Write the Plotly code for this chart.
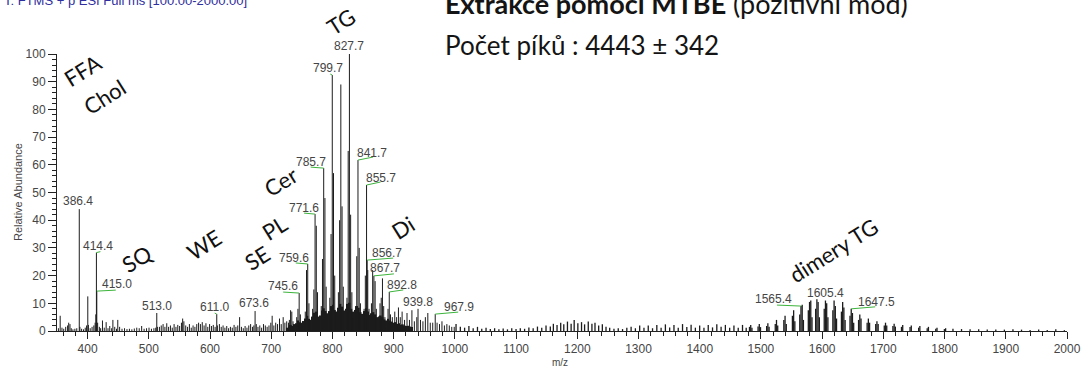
import plotly.graph_objects as go

# ---------------- spectrum data: m/z and relative abundance (%) ----------------
# low-mass region (FFA, cholesterol, squalene, wax esters, sterol esters)
low_mz = [352.3, 355.2, 358.1, 361.0, 364.2, 367.3, 369.1, 371.2, 373.3, 376.0,
          379.2, 382.3, 386.4, 387.4, 390.2, 393.3, 396.1, 398.3, 400.3, 401.3,
          404.2, 407.3, 410.2, 412.3, 413.4, 414.4, 415.0, 416.4, 419.2, 421.3,
          424.3, 427.2, 430.3, 433.3, 436.2, 439.3, 441.3, 444.3, 447.2, 449.3,
          452.3, 456.2, 460.3, 464.3, 468.3, 472.3, 476.3, 480.3, 484.3, 488.3,
          492.3, 496.3, 500.3, 504.3, 508.3, 511.3, 513.0, 514.0, 517.3, 520.3,
          523.3, 526.3, 529.3, 532.3, 535.3, 538.3, 541.3, 544.3, 547.3, 550.3,
          553.3, 555.3, 557.3, 560.3, 563.3, 566.3, 569.3, 572.3, 575.3, 578.3,
          581.3, 584.3, 587.3, 590.3, 593.3, 596.3, 599.3, 602.3, 605.3, 608.3,
          611.0, 612.0, 615.3, 618.3, 621.3, 624.3, 627.3, 630.3, 633.3, 636.3,
          639.3, 642.3, 645.3, 648.3, 651.3, 654.3, 657.3, 660.3, 663.3, 666.3,
          669.3, 671.6, 673.6, 675.6, 678.3, 681.3, 684.3, 687.3, 690.3, 693.3,
          696.3, 699.3, 701.5, 704.3, 707.3, 710.3, 713.5, 716.3, 719.5, 722.3,
          725.3, 728.3]
low_int = [1.0, 5.5, 1.2, 0.8, 1.5, 2.0, 3.0, 2.5, 1.0, 0.6,
           0.8, 1.0, 44.0, 1.5, 0.8, 0.6, 1.2, 2.0, 12.5, 2.2,
           1.0, 1.5, 2.0, 3.0, 6.0, 28.3, 14.4, 3.0, 1.5, 1.0,
           3.8, 1.2, 3.2, 1.0, 1.8, 1.0, 4.0, 1.5, 0.8, 4.0,
           1.5, 0.8, 1.0, 0.7, 0.8, 0.6, 0.9, 1.2, 1.0, 1.8,
           0.8, 1.0, 1.2, 0.8, 1.0, 1.2, 6.5, 1.5, 1.5, 2.0,
           2.5, 1.5, 2.8, 1.5, 2.0, 1.2, 2.5, 1.5, 2.2, 1.8,
           3.0, 4.5, 3.5, 2.0, 1.5, 2.5, 1.2, 2.0, 1.5, 2.5,
           3.0, 2.5, 3.2, 2.0, 2.8, 1.5, 2.5, 1.8, 2.2, 1.5,
           6.1, 2.0, 2.5, 1.5, 2.0, 1.2, 1.8, 1.0, 1.5, 1.2,
           2.2, 1.5, 2.0, 5.0, 1.5, 1.0, 1.8, 1.2, 2.0, 2.5,
           1.5, 2.0, 7.2, 2.5, 1.5, 2.0, 1.2, 2.5, 2.0, 1.5,
           2.0, 3.0, 5.5, 2.0, 3.0, 2.5, 4.5, 2.5, 5.0, 3.0,
           3.5, 3.0]

# phospholipid / ceramide / TG region
tg_mz = [729.6, 731.6, 733.6, 735.6, 741.6, 743.6, 745.6, 747.6, 749.6, 755.6,
         757.6, 759.6, 761.6, 763.6, 767.6, 769.6, 771.6, 773.6, 775.6, 777.6,
         781.7, 783.7, 785.7, 787.7, 789.7, 791.7, 795.7, 797.7, 799.7, 801.7,
         803.7, 805.7, 809.7, 811.7, 813.7, 815.7, 817.7, 819.7, 823.7, 825.7,
         827.7, 829.7, 831.7, 833.7, 837.7, 839.7, 841.7, 843.7, 845.7, 851.7,
         853.7, 855.7, 856.7, 857.7, 859.7, 863.7, 865.7, 867.7, 869.7, 871.7,
         877.7, 879.7, 881.7, 883.7, 885.7, 890.8, 892.8, 894.8, 897.8, 901.8,
         904.8, 907.8, 910.8, 913.8, 917.8, 921.8, 925.8, 929.8, 933.8, 937.8,
         939.8, 943.8, 947.8, 951.8, 955.8, 959.8, 963.8, 967.9, 970.9, 974.9,
         978.9, 982.9, 986.9, 990.9, 994.9, 998.9]
tg_int = [4.0, 7.5, 7.0, 3.5, 5.0, 8.0, 13.7, 6.0, 3.0, 7.0,
          22.0, 24.2, 10.0, 4.0, 8.0, 15.0, 42.2, 38.0, 14.0, 5.0,
          9.0, 26.0, 58.8, 48.0, 16.0, 6.0, 12.0, 35.0, 92.4, 57.0,
          20.0, 7.0, 14.0, 40.0, 89.0, 45.0, 16.0, 6.0, 12.0, 65.0,
          100.0, 42.0, 14.0, 5.0, 9.0, 27.0, 61.7, 30.0, 10.0, 8.0,
          20.0, 52.7, 25.6, 22.0, 8.0, 10.0, 22.0, 19.9, 18.0, 8.0,
          10.0, 12.0, 19.0, 9.0, 5.0, 8.0, 14.1, 6.0, 5.0, 7.0,
          5.0, 8.5, 5.0, 7.0, 4.0, 6.5, 4.0, 7.5, 3.5, 5.0,
          8.0, 4.0, 3.5, 5.0, 6.5, 3.0, 3.0, 6.1, 3.0, 2.5,
          3.5, 2.0, 2.5, 2.0, 1.5, 1.5]

# unresolved background under the TG envelope
tg_base_mz = [726, 729, 732, 735, 738, 741, 744, 747, 750, 753, 756, 759, 762, 765,
              768, 771, 774, 777, 780, 783, 786, 789, 792, 795, 798, 801, 804, 807,
              810, 813, 816, 819, 822, 825, 828, 831, 834, 837, 840, 843, 846, 849,
              852, 855, 858, 861, 864, 867, 870, 873, 876, 879, 882, 885, 888, 891,
              894, 897, 900, 903, 906, 909, 912, 915, 918, 921, 924, 927, 930]
tg_base_int = [1.2, 1.6, 2.2, 1.8, 2.5, 2.8, 3.8, 3.2, 2.8, 3.6, 4.5, 5.5, 4.4, 4.0,
               5.2, 6.6, 7.0, 5.2, 5.6, 7.4, 8.2, 7.2, 6.4, 7.2, 9.0, 9.5, 7.6, 7.0,
               8.4, 9.8, 8.8, 7.4, 8.0, 9.8, 10.2, 8.0, 7.0, 7.6, 9.0, 8.4, 6.8, 6.2,
               7.2, 8.2, 7.0, 5.8, 6.4, 6.8, 6.0, 5.0, 5.2, 5.6, 5.0, 4.2, 3.8, 4.4,
               3.8, 3.4, 3.0, 3.2, 2.6, 2.8, 2.2, 2.4, 2.0, 1.8, 1.9, 1.6, 1.4]

# 1000 - 1480
mid_mz = [1001.9, 1008.9, 1015.9, 1022.9, 1029.9, 1036.9, 1043.9, 1050.9, 1057.9, 1064.9,
          1071.9, 1078.9, 1085.9, 1092.9, 1099.9, 1106.9, 1113.9, 1120.9, 1127.9, 1134.9,
          1141.9, 1148.9, 1155.9, 1160.9, 1166.9, 1172.9, 1177.9, 1183.9, 1189.9, 1194.9,
          1200.9, 1206.9, 1211.9, 1217.9, 1223.9, 1228.9, 1234.9, 1240.9, 1246.9, 1252.9,
          1259.9, 1266.9, 1273.9, 1280.9, 1287.9, 1294.9, 1301.9, 1308.9, 1315.9, 1322.9,
          1329.9, 1336.9, 1343.9, 1350.9, 1357.9, 1364.9, 1371.9, 1378.9, 1385.9, 1392.9,
          1399.9, 1406.9, 1413.9, 1420.9, 1427.9, 1434.9, 1441.9, 1448.9, 1455.9, 1462.9,
          1469.9, 1475.9]
mid_int = [2.5, 1.5, 1.2, 1.8, 1.0, 1.5, 0.8, 1.2, 0.7, 1.0,
           0.6, 0.9, 0.6, 1.0, 0.7, 1.0, 0.8, 1.3, 1.0, 1.6,
           1.2, 2.0, 1.6, 2.6, 2.2, 3.0, 2.4, 3.4, 2.6, 4.0,
           2.8, 3.2, 2.4, 3.4, 2.6, 3.0, 2.0, 2.4, 1.5, 1.2,
           0.8, 1.0, 0.7, 1.2, 1.5, 1.0, 2.0, 1.2, 2.0, 1.0,
           2.2, 1.2, 2.4, 1.3, 2.2, 1.2, 2.5, 1.4, 2.3, 1.2,
           2.0, 1.2, 2.2, 1.3, 2.4, 1.5, 2.2, 1.2, 2.0, 1.2,
           2.2, 1.2]

# TG dimer region
dimer_mz = [1481.3, 1483.3, 1485.3, 1495.3, 1497.3, 1499.3, 1509.3, 1511.3, 1513.3,
            1523.4, 1525.4, 1527.4, 1537.4, 1539.4, 1541.4, 1551.4, 1553.4, 1555.4,
            1563.4, 1565.4, 1567.4, 1569.4, 1577.4, 1579.4, 1581.4, 1583.4,
            1589.4, 1591.4, 1593.4, 1595.4, 1603.4, 1605.4, 1607.4, 1609.4,
            1617.5, 1619.5, 1621.5, 1623.5, 1631.5, 1633.5, 1635.5, 1637.5,
            1645.5, 1647.5, 1649.5, 1651.5, 1659.5, 1661.5, 1663.5,
            1673.5, 1675.5, 1677.5, 1687.5, 1689.5, 1691.5, 1701.5, 1703.5, 1705.5,
            1715.6, 1717.6, 1719.6, 1729.6, 1731.6, 1743.6, 1745.6, 1757.6, 1759.6,
            1771.6, 1773.6, 1785.6, 1787.6, 1799.7, 1801.7,
            1813.7, 1827.7, 1841.7, 1855.7, 1869.7, 1883.7, 1897.7, 1911.7,
            1925.7, 1939.7, 1953.7, 1967.7, 1981.7, 1995.7]
dimer_int = [1.5, 2.2, 1.2, 1.6, 2.5, 1.4, 1.8, 2.8, 1.5,
             2.5, 4.0, 2.0, 4.0, 5.5, 2.5, 5.5, 7.5, 3.5,
             6.0, 9.0, 9.5, 4.0, 7.5, 10.5, 11.0, 5.0,
             8.0, 11.5, 10.5, 5.0, 8.0, 11.0, 10.0, 5.0,
             7.5, 11.0, 9.0, 4.5, 7.0, 10.5, 8.5, 4.0,
             5.5, 8.0, 6.5, 3.0, 4.0, 6.0, 4.5,
             3.0, 4.5, 3.0, 2.5, 3.5, 2.5, 2.0, 3.0, 2.0,
             1.8, 2.6, 1.6, 1.5, 2.2, 1.4, 2.0, 1.2, 1.8,
             1.0, 1.5, 0.8, 1.2, 0.7, 1.0,
             0.8, 0.7, 0.6, 0.6, 0.5, 0.5, 0.5, 0.6,
             0.5, 0.4, 0.5, 0.4, 0.6, 0.3]

# labelled peaks and label placement (pixel offsets of text / green leader)
label_mz = [386.4, 414.4, 415.0, 513.0, 611.0, 673.6, 745.6, 759.6, 771.6, 785.7, 799.7,
            827.7, 841.7, 855.7, 856.7, 867.7, 892.8, 939.8, 967.9, 1565.4, 1605.4, 1647.5]
label_dx = [-1, 2, 20, 0, -2, -1, -16, -14, -11, -13, -4, 0, 14, 14, 20, 11, 13, 0, 24, -27, 0, 25]
label_dy = [8, 7, 7, 7, 7, 8, 7, 6, 6, 6, 7, 8, 7, 7, 7, 8, 7, 7, 7, 7, 8, 7]
lead_dx = [0, 4, 19, 0, -2, 0, -16, -12, -11, -13, -2, 0, 15, 14, 26, 20, 14, 0, 23, -24, 0, 24]
lead_dy = [0, 1, 1, 0, 1, 0, 1, 1, 1, 1, 1, 0, 3, 3, 2, 2, 2, 0, 2, 1, 0, 2]

# lipid class annotations (m/z, relative abundance position)
class_names = ["TG", "FFA", "Chol", "Cer", "PL", "SE", "WE", "SQ", "Di", "dimery TG"]
class_mz = [814, 391, 428, 716, 706, 678, 590, 481, 915, 1618]
class_y = [111.6, 94.2, 84.8, 53.8, 37.5, 26.4, 31.4, 26.0, 37.5, 28.9]

# ---------------- figure ----------------
W, H = 1082, 367
L, R, T, B = 57, 15, 54, 36
TICK_FONT = dict(family="Liberation Sans, Arial, sans-serif", size=12, color="#454545")
STICK = "#1c1c1c"


def sticks(mz, inten):
    xs, ys = [], []
    for m, v in zip(mz, inten):
        xs += [m, m, None]
        ys += [0, v, None]
    return xs, ys


fig = go.Figure()

fig.add_trace(go.Bar(x=tg_base_mz, y=tg_base_int, width=3.0,
                     marker=dict(color=STICK, line=dict(width=0)),
                     hoverinfo="skip", showlegend=False))

for mz, inten, lw in [(low_mz, low_int, 1), (tg_mz, tg_int, 1),
                      (mid_mz, mid_int, 1.3), (dimer_mz, dimer_int, 1.3)]:
    xs, ys = sticks(mz, inten)
    fig.add_trace(go.Scatter(x=xs, y=ys, mode="lines",
                             line=dict(color=STICK, width=lw),
                             hoverinfo="skip", showlegend=False))

peak_lookup = {}
for mz, inten in [(low_mz, low_int), (tg_mz, tg_int), (mid_mz, mid_int), (dimer_mz, dimer_int)]:
    for m, v in zip(mz, inten):
        peak_lookup[m] = v

annotations = []
shapes = []
for m, dx, dy, lx, ly in zip(label_mz, label_dx, label_dy, lead_dx, lead_dy):
    v = peak_lookup[m]
    annotations.append(dict(x=m, y=v, xref="x", yref="y", text=f"{m:.1f}",
                            showarrow=False, xanchor="center", yanchor="middle",
                            xshift=dx, yshift=dy, font=TICK_FONT))
    if lx or ly:
        shapes.append(dict(type="line", xref="x", yref="y",
                           xsizemode="pixel", ysizemode="pixel",
                           xanchor=m, yanchor=v, x0=0, y0=0, x1=lx, y1=ly,
                           line=dict(color="#3cb43c", width=1)))

# y axis spans 0-100 %, so paper y = value / 100 (lets labels sit above the axis)
for name, cx, cy in zip(class_names, class_mz, class_y):
    annotations.append(dict(x=cx, y=cy / 100.0, xref="x", yref="paper", text=name,
                            showarrow=False, textangle=-32,
                            xanchor="center", yanchor="middle",
                            font=dict(family="Lato, sans-serif", size=22, color="#111111")))

pw, ph = W - L - R, H - T - B


def px(xp):
    return (xp - L) / pw


def py(yp):
    return (H - B - yp) / ph


annotations += [
    dict(x=px(2), y=py(0.5), xref="paper", yref="paper", xanchor="left", yanchor="middle",
         text="T: FTMS + p ESI Full ms [100.00-2000.00]", showarrow=False,
         font=dict(family="Liberation Sans, Arial, sans-serif", size=13, color="#2e2ea0")),
    dict(x=px(443), y=py(3), xref="paper", yref="paper", xanchor="left", yanchor="middle",
         text="<b>Extrakce pomocí MTBE</b> (pozitivní mód)", showarrow=False,
         font=dict(family="Lato, sans-serif", size=27, color="#141414")),
    dict(x=px(443), y=py(45), xref="paper", yref="paper", xanchor="left", yanchor="middle",
         text="Počet píků : 4443 ± 342", showarrow=False,
         font=dict(family="Lato, sans-serif", size=26, color="#141414")),
    dict(x=px(560), y=py(362), xref="paper", yref="paper", xanchor="center", yanchor="middle",
         text="m/z", showarrow=False,
         font=dict(family="Liberation Sans, Arial, sans-serif", size=10, color="#454545")),
    dict(x=px(18), y=py(192), xref="paper", yref="paper", xanchor="center", yanchor="middle",
         text="Relative Abundance", showarrow=False, textangle=-90,
         font=dict(family="Liberation Sans, Arial, sans-serif", size=11, color="#454545")),
]

fig.update_layout(
    width=W, height=H,
    margin=dict(l=L, r=R, t=T, b=B, autoexpand=False),
    paper_bgcolor="white", plot_bgcolor="white",
    showlegend=False, barmode="overlay",
    annotations=annotations, shapes=shapes,
)

fig.update_xaxes(range=[350, 2000], tickmode="array",
                 tickvals=list(range(400, 2001, 100)),
                 ticks="outside", ticklen=7, tickcolor="#222", tickwidth=1,
                 minor=dict(dtick=20, tick0=0, ticks="outside", ticklen=4, tickcolor="#222"),
                 showline=True, linecolor="#222", linewidth=1,
                 showgrid=False, zeroline=False, tickfont=TICK_FONT)
fig.update_yaxes(range=[0, 100], dtick=10, tick0=0,
                 ticks="outside", ticklen=8, tickcolor="#222", tickwidth=1,
                 minor=dict(dtick=2, ticks="outside", ticklen=4, tickcolor="#222"),
                 showline=True, linecolor="#222", linewidth=1,
                 showgrid=False, zeroline=False, tickfont=TICK_FONT)

fig.write_html("out.html")
